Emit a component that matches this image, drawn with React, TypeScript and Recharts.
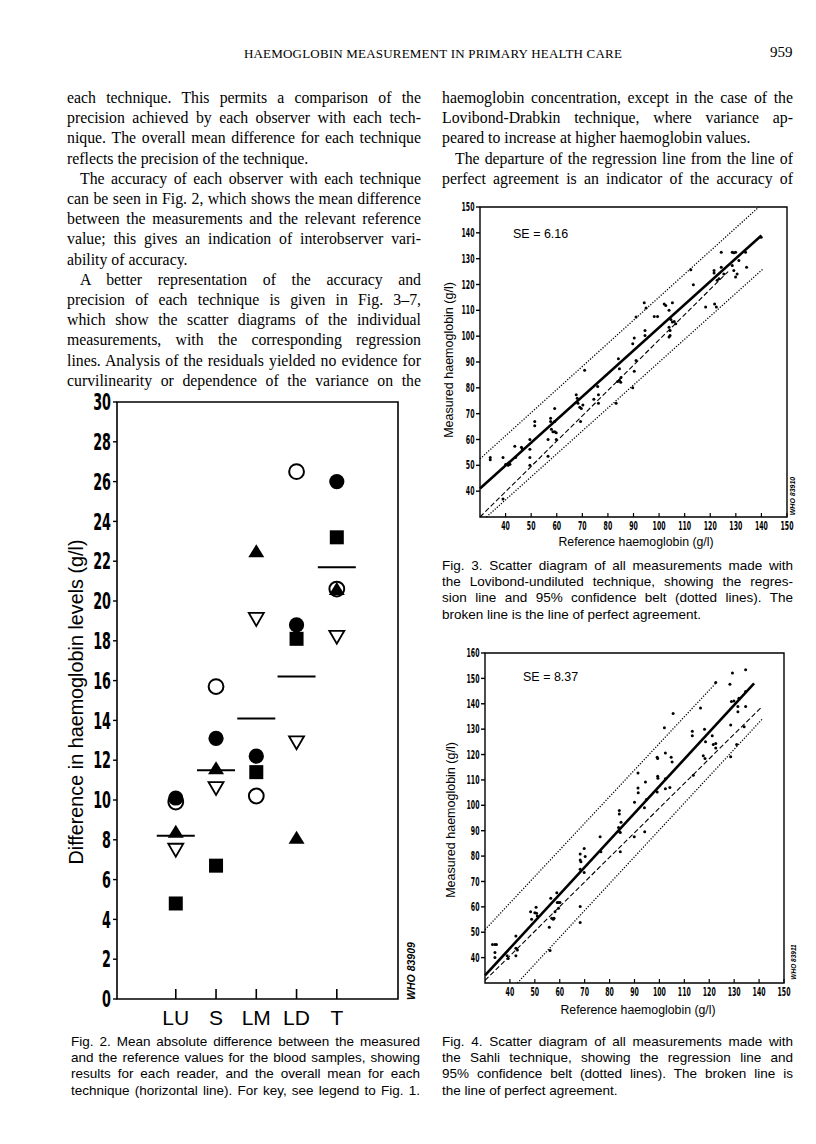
import React from 'react';
import { ScatterChart, Scatter, XAxis, YAxis, ReferenceLine, ReferenceArea } from 'recharts';

// ---------- Fig. 2: mean absolute difference per technique ----------
const techniques = ['LU', 'S', 'LM', 'LD', 'T'];
const filledCircle = [10.1, 13.1, 12.2, 18.8, 26.0];
const openCircle = [9.9, 15.7, 10.2, 26.5, 20.6];
const filledTriangle = [8.4, 11.6, 22.5, 8.1, 20.6];
const openTriangle = [7.5, 10.6, 19.1, 12.9, 18.2];
const filledSquare = [4.8, 6.7, 11.4, 18.1, 23.2];
const techniqueMeans = [8.2, 11.5, 14.1, 16.2, 21.7];
const fig2YTicks = [0, 2, 4, 6, 8, 10, 12, 14, 16, 18, 20, 22, 24, 26, 28, 30];
const fig2XDomain = [-0.46, 6.52];

// ---------- Fig. 3: Lovibond-undiluted ----------
const fig3Points = [
  [34, 53], [34, 52.2], [39, 53], [39, 37], [40, 50.3], [41, 50], [41.7, 50.4], [43.6, 57.4], [43.9, 53],
  [46.2, 57], [46.5, 56.4], [49.5, 60], [49.5, 56.2], [49.5, 53], [49.5, 50], [51.4, 67], [51.4, 65.3],
  [56.6, 60], [56.6, 53.5], [57.6, 68.2], [57.6, 67], [57.9, 64], [58.5, 63], [59.2, 72], [59.2, 67],
  [59.2, 63], [59.8, 62.6], [59.8, 60], [67.6, 77.3], [68, 76], [68.3, 74], [69, 72.5], [69.6, 72],
  [69.3, 67], [70.2, 73.4], [70.9, 86.8], [74.5, 75.6], [76, 80.5], [76.3, 77.3], [76.3, 74], [83.2, 74],
  [83.8, 82.5], [84.5, 82.9], [85, 82.2], [89.7, 80], [90.3, 86.4], [84.1, 91.3], [84.5, 87.4], [85.1, 84],
  [89.7, 97.1], [90.3, 99.3], [91, 90.6], [91, 107.4], [94.2, 112.9], [94.9, 110.9], [94.5, 102.2],
  [94.5, 100.3], [98.1, 107.6], [99.4, 107.6], [102, 112.5], [102.6, 111.9], [103.9, 110], [105.2, 112.9],
  [103.9, 103.5], [104.3, 102.2], [104.3, 100.3], [103.9, 99.7], [104.6, 106.5], [105.2, 105.5],
  [105.9, 105.7], [106.5, 104.8], [112.4, 125.7], [113.4, 119.9], [118.2, 111.3], [121.5, 125.4],
  [121.5, 124.5], [121.7, 112.5], [122.4, 111.3], [122.7, 121.6], [123.4, 122.2], [124.3, 132.5],
  [124.3, 126.7], [125.3, 124.1], [128.6, 132.5], [129.2, 132.3], [129.9, 132.5], [128.6, 127.4],
  [129.2, 125.4], [129.9, 122.9], [130.5, 124.1], [131.2, 129.3], [133.8, 132.5], [134.2, 126.7],
  [139.9, 138.3],
];
const fig3Regression = [[30, 41], [140, 139]];
const fig3Upper = [[30, 52.5], [139, 150]];
const fig3Lower = [[32.5, 30], [140.6, 126]];
const fig3Identity = [[30, 30], [127, 125]];

// ---------- Fig. 4: Sahli ----------
const fig4Points = [
  [33, 45.2], [34, 45.2], [34.6, 45.2], [34, 42], [34, 40], [38.9, 40.7], [39.3, 39.7], [42.4, 48.5],
  [42.4, 43.7], [43, 43], [42.4, 40.7], [48.3, 58.1], [48.7, 55.1], [50, 57.7], [50.7, 57.5], [51, 56.4],
  [50.5, 59.8], [55.8, 52], [56.1, 42.8], [56.4, 63.4], [56.8, 55.5], [57.4, 55.1], [57.7, 55.5],
  [58.1, 58.1], [58.8, 65.6], [59, 61.7], [59.5, 61.7], [60.1, 61.7], [59.5, 59.4], [68.2, 80.8],
  [68.2, 78.5], [68.5, 77.8], [68.2, 74.8], [68.2, 60.1], [68.2, 53.8], [69.8, 83], [70.2, 79.8],
  [69.8, 73.5], [76.2, 87.6], [76.5, 81.7], [84, 89.6], [84.3, 81.7], [89.9, 87.6], [94.1, 89.6],
  [84.3, 89.3], [83.6, 91.3], [84.6, 93.3], [83.9, 96.6], [83.9, 98], [90, 101.2], [91.4, 112.7],
  [91.4, 106.8], [91.5, 104.9], [94.4, 109.2], [94, 99], [94.8, 102.3], [99.1, 118.9], [99.3, 118.4],
  [99.3, 111.4], [99.4, 110.7], [99.1, 105.2], [102, 130.6], [102.4, 120.6], [102.4, 110.5],
  [102.4, 106.5], [104.2, 107], [104.7, 118.9], [105.1, 117.1], [105.5, 136.2], [113.2, 129.2],
  [113.2, 127.4], [113.6, 111.8], [116.5, 138.3], [118.1, 130], [118.5, 125], [117.6, 119.5],
  [118.3, 118.4], [121.2, 127.4], [121.6, 124], [122.6, 124.3], [122.6, 122.6], [122.6, 148.4],
  [128.3, 147.7], [128.6, 131.6], [128.6, 119.1], [129.3, 152.1], [128.9, 140.9], [129.9, 141.1],
  [131, 124], [131.5, 138.9], [131.5, 136.9], [131.9, 142.2], [134.6, 153.4], [134.6, 138.9],
  [134.6, 144.8], [134, 130.9],
];
const fig4Regression = [[30, 33], [138, 148]];
const fig4Upper = [[30, 51], [123, 148.5]];
const fig4Lower = [[43, 30], [141.3, 134]];
const fig4Identity = [[30, 31], [141.3, 139]];

const refXTicks = [40, 50, 60, 70, 80, 90, 100, 110, 120, 130, 140, 150];
const fig3YTicks = [40, 50, 60, 70, 80, 90, 100, 110, 120, 130, 140, 150];
const fig4YTicks = [40, 50, 60, 70, 80, 90, 100, 110, 120, 130, 140, 150, 160];

// ---------- page text ----------
const leftColumn = [
  { text: 'each technique. This permits a comparison of the' },
  { text: 'precision achieved by each observer with each tech-' },
  { text: 'nique. The overall mean difference for each technique' },
  { text: 'reflects the  precision of the technique.', last: true },
  { text: 'The accuracy of each observer with each technique', indent: true },
  { text: 'can be seen in Fig. 2, which shows the mean difference' },
  { text: 'between the measurements and the relevant reference' },
  { text: 'value; this gives an indication of interobserver vari-' },
  { text: 'ability of accuracy.', last: true },
  { text: 'A better representation of the accuracy and', indent: true },
  { text: 'precision of each technique is given in Fig. 3–7,' },
  { text: 'which show the scatter diagrams of the individual' },
  { text: 'measurements, with the corresponding regression' },
  { text: 'lines. Analysis of the residuals yielded no evidence for' },
  { text: 'curvilinearity or dependence of the variance on the' },
];
const rightColumn = [
  { text: 'haemoglobin concentration, except in the case of the' },
  { text: 'Lovibond-Drabkin technique, where variance ap-' },
  { text: 'peared to increase at higher haemoglobin values.', last: true },
  { text: 'The departure of the regression line from the line of', indent: true },
  { text: 'perfect agreement is an indicator of the accuracy of' },
];
const fig2Caption = [
  { text: 'Fig. 2. Mean absolute difference between the measured' },
  { text: 'and the reference values for the blood samples, showing' },
  { text: 'results for each reader, and the overall mean for each' },
  { text: 'technique (horizontal line). For key, see legend to Fig. 1.' },
];
const fig3Caption = [
  { text: 'Fig. 3. Scatter diagram of all measurements made with' },
  { text: 'the Lovibond-undiluted technique, showing the regres-' },
  { text: 'sion line and 95% confidence belt (dotted lines). The' },
  { text: 'broken line is the line of perfect agreement.', last: true },
];
const fig4Caption = [
  { text: 'Fig. 4. Scatter diagram of all measurements made with' },
  { text: 'the Sahli technique, showing the regression line and' },
  { text: '95% confidence belt (dotted lines). The broken line is' },
  { text: 'the line of perfect agreement.', last: true },
];

const serif = '"Liberation Serif", "Times New Roman", serif';
const sans = '"Liberation Sans", Arial, sans-serif';
const narrow = '"DejaVu Sans Condensed", "DejaVu Sans", sans-serif';

const toXY = (pts: number[][]) => pts.map(([x, y]) => ({ x, y }));
const byTechnique = (vals: number[]) => vals.map((y, i) => ({ x: i + 1, y }));
const seg = (pts: number[][]) => pts.map(([x, y]) => ({ x, y })) as any;

// ---------- markers ----------
const FilledCircle = (p: any) => <circle cx={p.cx} cy={p.cy} r={7.6} fill="#000" />;
const OpenCircle = (p: any) => <circle cx={p.cx} cy={p.cy} r={7.4} fill="#fff" stroke="#000" strokeWidth={2} />;
const FilledTriangle = (p: any) => (
  <polygon points={`${p.cx},${p.cy - 7} ${p.cx - 8},${p.cy + 6} ${p.cx + 8},${p.cy + 6}`} fill="#000" />
);
const OpenTriangle = (p: any) => (
  <polygon points={`${p.cx - 7.5},${p.cy - 6} ${p.cx + 7.5},${p.cy - 6} ${p.cx},${p.cy + 7}`} fill="#fff" stroke="#000" strokeWidth={1.8} />
);
const FilledSquare = (p: any) => <rect x={p.cx - 7} y={p.cy - 7} width={14} height={14} fill="#000" />;
const MeanBar = (p: any) => <line x1={p.cx - 19} x2={p.cx + 19} y1={p.cy} y2={p.cy} stroke="#000" strokeWidth={2} />;
const Dot = (p: any) => <circle cx={p.cx} cy={p.cy} r={1.5} fill="#000" />;

// ---------- ticks ----------
const leftTick = (size: number, len: number, gap: number, squeeze: number) => (props: any) => {
  const { x, y, payload } = props;
  return (
    <g>
      <line x1={x - len} x2={x} y1={y} y2={y} stroke="#000" strokeWidth={1.4} />
      <text
        transform={`translate(${x - len - gap},${y + size * 0.36}) scale(${squeeze},1)`}
        textAnchor="end"
        fontFamily={narrow}
        fontWeight={700}
        fontSize={size}
        fill="#000"
      >
        {payload.value}
      </text>
    </g>
  );
};

const bottomTick = (size: number, len: number, squeeze: number) => (props: any) => {
  const { x, y, payload } = props;
  return (
    <g>
      <line x1={x} x2={x} y1={y} y2={y - len} stroke="#000" strokeWidth={1.2} />
      <text
        transform={`translate(${x},${y + 12.5}) scale(${squeeze},1)`}
        textAnchor="middle"
        fontFamily={narrow}
        fontWeight={700}
        fontSize={size}
        fill="#000"
      >
        {payload.value}
      </text>
    </g>
  );
};

const techniqueTick = (props: any) => {
  const { x, y, payload } = props;
  return (
    <g>
      <line x1={x} x2={x} y1={y} y2={y - 10} stroke="#000" strokeWidth={1.6} />
      <text x={x} y={y + 26} textAnchor="middle" fontFamily={sans} fontSize={21} fill="#000">
        {techniques[payload.value - 1]}
      </text>
    </g>
  );
};

// ---------- helpers for html text ----------
const TextBlock = ({ left, top, width, size, lineHeight, font, lines, indent = 13 }: any) => (
  <div style={{ position: 'absolute', left, top, width, fontFamily: font, fontSize: size, lineHeight: `${lineHeight}px`, color: '#000' }}>
    {lines.map((l: any, i: number) => (
      <div key={i} style={{ textAlign: 'justify', textAlignLast: l.last ? 'left' : 'justify', textIndent: l.indent ? indent : 0 }}>
        {l.text}
      </div>
    ))}
  </div>
);

const Rotated = ({ x, y, children, style }: any) => (
  <div
    style={{
      position: 'absolute', left: x, top: y, whiteSpace: 'nowrap', lineHeight: 1,
      transform: 'translate(-50%,-50%) rotate(-90deg)', ...style,
    }}
  >
    {children}
  </div>
);

const Centered = ({ x, y, children, style }: any) => (
  <div style={{ position: 'absolute', left: x, top: y, whiteSpace: 'nowrap', lineHeight: 1, transform: 'translate(-50%,-50%)', ...style }}>
    {children}
  </div>
);

const Fig2 = () => (
  <div style={{ position: 'absolute', left: 30, top: 380 }}>
    <ScatterChart width={400} height={660} margin={{ top: 22, right: 32, bottom: 6, left: 27 }}>
      <XAxis
        type="number"
        dataKey="x"
        domain={fig2XDomain}
        allowDataOverflow
        ticks={[1, 2, 3, 4, 5]}
        tick={techniqueTick}
        tickSize={0}
        tickMargin={0}
        tickLine={false}
        axisLine={false}
        height={35}
      />
      <YAxis
        type="number"
        dataKey="y"
        domain={[0, 30]}
        allowDataOverflow
        ticks={fig2YTicks}
        interval={0}
        tick={leftTick(23, 4, 2, 0.62)}
        tickSize={0}
        tickMargin={0}
        tickLine={false}
        axisLine={false}
        width={60}
      />
      <ReferenceArea x1={fig2XDomain[0]} x2={fig2XDomain[1]} y1={0} y2={30} fill="none" stroke="#000" strokeWidth={1.6} ifOverflow="visible" />
      <Scatter data={byTechnique(techniqueMeans)} shape={MeanBar} isAnimationActive={false} />
      <Scatter data={byTechnique(filledSquare)} shape={FilledSquare} isAnimationActive={false} />
      <Scatter data={byTechnique(openCircle)} shape={OpenCircle} isAnimationActive={false} />
      <Scatter data={byTechnique(filledCircle)} shape={FilledCircle} isAnimationActive={false} />
      <Scatter data={byTechnique(openTriangle)} shape={OpenTriangle} isAnimationActive={false} />
      <Scatter data={byTechnique(filledTriangle)} shape={FilledTriangle} isAnimationActive={false} />
    </ScatterChart>
  </div>
);

const RegressionFigure = ({ left, top, height, margin, yMax, yTicks, points, regression, upper, lower, identity }: any) => (
  <div style={{ position: 'absolute', left, top }}>
    <ScatterChart width={385} height={height} margin={margin}>
      <XAxis
        type="number"
        dataKey="x"
        domain={[30, 150]}
        allowDataOverflow
        ticks={refXTicks}
        interval={0}
        tick={bottomTick(11.5, 4, 0.6)}
        tickSize={0}
        tickMargin={0}
        tickLine={false}
        axisLine={false}
        height={30}
      />
      <YAxis
        type="number"
        dataKey="y"
        domain={[30, yMax]}
        allowDataOverflow
        ticks={yTicks}
        interval={0}
        tick={leftTick(11.5, 4, 1.5, 0.6)}
        tickSize={0}
        tickMargin={0}
        tickLine={false}
        axisLine={false}
        width={48}
      />
      <ReferenceArea x1={30} x2={150} y1={30} y2={yMax} fill="none" stroke="#000" strokeWidth={1.4} ifOverflow="visible" />
      <ReferenceLine segment={seg(upper)} stroke="#000" strokeWidth={1.3} strokeDasharray="1.2 1.6" ifOverflow="visible" />
      <ReferenceLine segment={seg(lower)} stroke="#000" strokeWidth={1.3} strokeDasharray="1.2 1.6" ifOverflow="visible" />
      <ReferenceLine segment={seg(identity)} stroke="#000" strokeWidth={1.1} strokeDasharray="5 2.5" ifOverflow="visible" />
      <ReferenceLine segment={seg(regression)} stroke="#000" strokeWidth={2.6} ifOverflow="visible" />
      <Scatter data={toXY(points)} shape={Dot} isAnimationActive={false} />
    </ScatterChart>
  </div>
);

export default function App() {
  return (
    <div style={{ position: 'absolute', left: 0, top: 0, width: 816, height: 1144, background: '#fff', overflow: 'hidden', color: '#000' }}>
      {/* running head */}
      <Centered x={433} y={53} style={{ fontFamily: serif, fontSize: 13, letterSpacing: 0.2 }}>
        HAEMOGLOBIN MEASUREMENT IN PRIMARY HEALTH CARE
      </Centered>
      <div style={{ position: 'absolute', left: 770, top: 45, fontFamily: serif, fontSize: 15, lineHeight: 1 }}>959</div>

      <TextBlock left={67} top={88} width={354} size={15.8} lineHeight={20.2} font={serif} lines={leftColumn} />
      <TextBlock left={442} top={88} width={351} size={15.8} lineHeight={20.2} font={serif} lines={rightColumn} />

      {/* Fig. 2 */}
      <Fig2 />
      <Rotated x={77} y={702} style={{ fontFamily: sans, fontSize: 19.8 }}>
        Difference in haemoglobin levels (g/l)
      </Rotated>
      <Rotated x={411} y={971} style={{ fontFamily: sans, fontSize: 10.5, fontWeight: 700, fontStyle: 'italic' }}>
        WHO 83909
      </Rotated>
      <TextBlock left={71} top={1034} width={349} size={13.5} lineHeight={16.2} font={sans} lines={fig2Caption} />

      {/* Fig. 3 */}
      <RegressionFigure
        left={420}
        top={190}
        height={375}
        margin={{ top: 17, right: 18, bottom: 18, left: 12 }}
        yMax={150}
        yTicks={fig3YTicks}
        points={fig3Points}
        regression={fig3Regression}
        upper={fig3Upper}
        lower={fig3Lower}
        identity={fig3Identity}
      />
      <div style={{ position: 'absolute', left: 513, top: 228, fontFamily: sans, fontSize: 12.5, lineHeight: 1 }}>SE = 6.16</div>
      <Rotated x={449} y={360} style={{ fontFamily: sans, fontSize: 12.5 }}>Measured haemoglobin (g/l)</Rotated>
      <Centered x={636} y={542} style={{ fontFamily: sans, fontSize: 12.3 }}>Reference haemoglobin (g/l)</Centered>
      <Rotated x={792} y={496} style={{ fontFamily: sans, fontSize: 7, fontWeight: 700, fontStyle: 'italic' }}>WHO 83910</Rotated>
      <TextBlock left={442} top={558} width={351} size={13.5} lineHeight={16.2} font={sans} lines={fig3Caption} />

      {/* Fig. 4 */}
      <RegressionFigure
        left={420}
        top={636}
        height={390}
        margin={{ top: 17, right: 21, bottom: 13, left: 17 }}
        yMax={160}
        yTicks={fig4YTicks}
        points={fig4Points}
        regression={fig4Regression}
        upper={fig4Upper}
        lower={fig4Lower}
        identity={fig4Identity}
      />
      <div style={{ position: 'absolute', left: 523, top: 671, fontFamily: sans, fontSize: 12.5, lineHeight: 1 }}>SE = 8.37</div>
      <Rotated x={451} y={820} style={{ fontFamily: sans, fontSize: 12.5 }}>Measured haemoglobin (g/l)</Rotated>
      <Centered x={638} y={1010} style={{ fontFamily: sans, fontSize: 12.3 }}>Reference haemoglobin (g/l)</Centered>
      <Rotated x={794} y={962} style={{ fontFamily: sans, fontSize: 6.5, fontWeight: 700, fontStyle: 'italic' }}>WHO 83911</Rotated>
      <TextBlock left={442} top={1034} width={351} size={13.5} lineHeight={16.2} font={sans} lines={fig4Caption} />
    </div>
  );
}
